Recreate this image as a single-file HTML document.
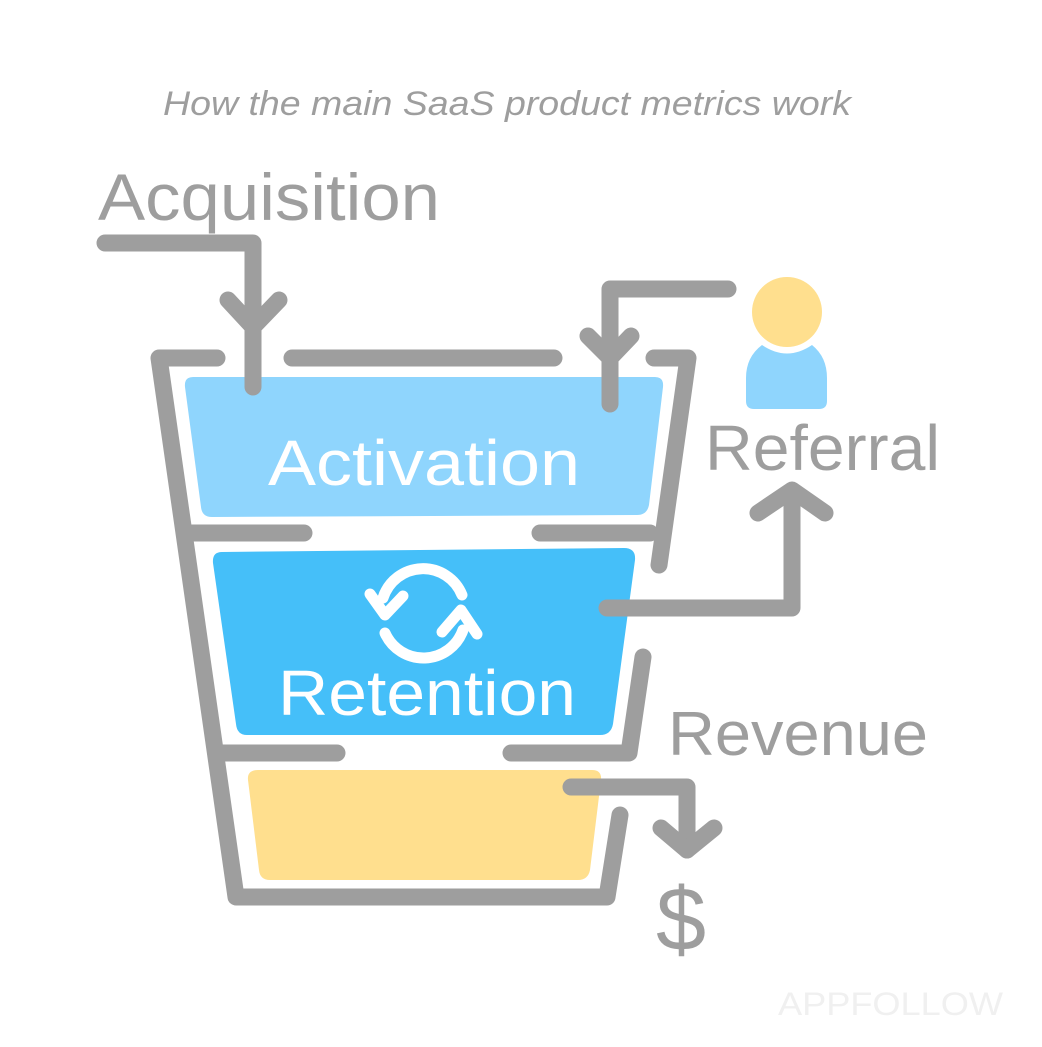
<!DOCTYPE html>
<html><head><meta charset="utf-8"><style>
html,body{margin:0;padding:0;background:#fff;}
svg{display:block;}
</style></head><body>
<svg width="1042" height="1047" viewBox="0 0 1042 1047" xmlns="http://www.w3.org/2000/svg">
<rect width="1042" height="1047" fill="#fff"/>
<path d="M193,377 L655,377 Q664,377 663,387 L649,505 Q647,515 637,515 L212,517 Q202,517 201,507 L185,387 Q184,377 193,377 Z" fill="#8fd5fd"/>
<path d="M222,552 L624,548 Q636,548 635,560 L613,724 Q611,735 600,735 L247,735 Q237,735 236,724 L213,563 Q212,552 222,552 Z" fill="#45bff9"/>
<path d="M258,770 L592,770 Q602,770 601,780 L590,870 Q588,880 578,880 L270,880 Q260,880 259,870 L248,780 Q247,770 258,770 Z" fill="#ffdf8e"/>
<g fill="none" stroke="#9e9e9e" stroke-width="17" stroke-linecap="round" stroke-linejoin="round">
<path d="M217,358 L159,358 L236,897 L607,897 L620,815"/>
<path d="M292,358 L554,358"/>
<path d="M654,358 L688,358 L659,565"/>
<path d="M192,533 L304,533"/>
<path d="M540,533 L650,533"/>
<path d="M218,753 L337,753"/>
<path d="M511,753 L629,753 L643,657"/>
<path d="M105,243 L253,243 L253,387"/>
<path d="M228,300 L253,327 L279,300"/>
<path d="M728,289 L610,289 L610,404"/>
<path d="M588,336 L610,358 L631,336"/>
<path d="M607,608 L792,608 L792,495"/>
<path d="M758,513 L792,490 L825,513"/>
<path d="M571,787 L687,787 L687,850"/>
<path d="M661,828 L687,850 L714,828"/>
</g>
<g fill="none" stroke="#fff" stroke-width="11" stroke-linecap="round" stroke-linejoin="round">
<path d="M383,598 A42,42 0 0 1 462,595"/>
<path d="M463,630 A42,42 0 0 1 385,633"/>
<path d="M370,594 L385,615 L403,596"/>
<path d="M442,632 L461,610 L477,634"/>
</g>
<path d="M762,345 Q787,362 812,345 Q827,357 827,378 L827,401 Q827,409 819,409 L754,409 Q746,409 746,401 L746,378 Q746,357 762,345 Z" fill="#8fd5fd"/>
<circle cx="787" cy="312" r="35" fill="#ffdf8e"/>
<g font-family="Liberation Sans, sans-serif">
<text x="163" y="115" font-size="34" font-style="italic" fill="#9e9e9e" textLength="688" lengthAdjust="spacingAndGlyphs">How the main SaaS product metrics work</text>
<text x="98" y="220" font-size="66" fill="#9e9e9e" textLength="342" lengthAdjust="spacingAndGlyphs">Acquisition</text>
<text x="705" y="470" font-size="64" fill="#9e9e9e" textLength="235" lengthAdjust="spacingAndGlyphs">Referral</text>
<text x="668" y="755" font-size="62" fill="#9e9e9e" textLength="260" lengthAdjust="spacingAndGlyphs">Revenue</text>
<text x="656" y="950" font-size="90" fill="#9e9e9e">$</text>
<text x="268" y="485" font-size="64" fill="#fff" textLength="312" lengthAdjust="spacingAndGlyphs">Activation</text>
<text x="278" y="715" font-size="64" fill="#fff" textLength="298" lengthAdjust="spacingAndGlyphs">Retention</text>
<text x="778" y="1015" font-size="32" fill="#f0f0f0" textLength="225" lengthAdjust="spacingAndGlyphs">APPFOLLOW</text>
</g>
</svg>
</body></html>
